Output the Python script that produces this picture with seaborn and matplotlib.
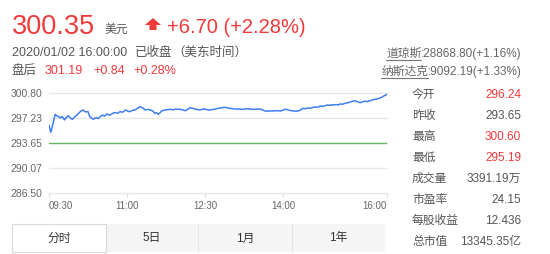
import matplotlib
matplotlib.use("Agg")
import matplotlib.pyplot as plt
import seaborn as sns
import pandas as pd
from matplotlib.patches import Rectangle, Polygon

sns.set_style("white")
plt.rcParams['font.family'] = ['Liberation Sans', 'Noto Sans CJK SC', 'DejaVu Sans']

# Intraday price, minutes after 09:30 (US Eastern)
minutes = [0, 1, 2, 3, 5, 7, 9, 11, 13, 15, 18, 20, 22, 25, 27, 30, 33, 36, 39, 42,
           45, 47, 49, 51, 53, 55, 57, 59, 62, 64, 67, 70, 73, 76, 79, 82, 85, 88, 91, 93,
           96, 99, 102, 105, 108, 111, 114, 117, 120, 122, 124, 126, 128, 130, 133, 136, 140, 143, 146, 151,
           154, 157, 160, 163, 166, 168, 171, 174, 177, 180, 183, 186, 189, 192, 195, 198, 203, 206, 209, 212,
           216, 220, 224, 228, 232, 236, 240, 243, 246, 249, 252, 255, 258, 262, 267, 270, 272, 275, 278, 282,
           285, 288, 290, 293, 296, 298, 301, 304, 307, 310, 313, 316, 319, 321, 324, 326, 328, 331, 334, 336,
           339, 342, 345, 348, 350, 353, 356, 359, 362, 365, 367, 370, 373, 376, 378, 381, 384, 386, 388, 390]
prices = [296.24, 295.70, 295.19, 295.60, 296.60, 297.75, 297.55, 297.41, 297.23, 297.45, 296.94, 297.30, 297.55, 297.20, 297.04, 297.41, 297.75, 298.13, 298.37, 298.10,
          298.15, 297.41, 297.25, 297.04, 297.20, 297.27, 297.15, 297.41, 297.65, 297.50, 297.80, 297.62, 297.85, 298.01, 297.90, 298.13, 298.05, 298.37, 298.20, 298.13,
          298.30, 298.37, 298.60, 298.84, 298.70, 298.37, 298.45, 298.37, 298.20, 297.90, 298.00, 297.75, 297.95, 298.23, 298.35, 298.40, 298.47, 298.40, 298.50, 298.47,
          298.40, 298.27, 298.45, 298.70, 298.60, 298.51, 298.45, 298.37, 298.48, 298.51, 298.40, 298.37, 298.45, 298.51, 298.60, 298.65, 298.76, 298.68, 298.61, 298.55,
          298.50, 298.51, 298.45, 298.55, 298.51, 298.45, 298.50, 298.51, 298.40, 298.23, 298.20, 298.25, 298.22, 298.28, 298.23, 298.35, 298.47, 298.42, 298.30, 298.23,
          298.20, 298.25, 298.35, 298.61, 298.55, 298.65, 298.61, 298.72, 298.80, 298.75, 298.94, 298.88, 299.00, 299.08, 299.02, 299.12, 299.08, 299.15, 299.10, 299.23,
          299.20, 299.35, 299.40, 299.55, 299.60, 299.70, 299.55, 299.41, 299.55, 299.62, 299.58, 299.66, 299.80, 299.90, 299.94, 300.05, 300.20, 300.35, 300.48, 300.60]

prev_close = 293.65
y_ticks = [286.50, 290.07, 293.65, 297.23, 300.80]
x_ticks = [0, 90, 180, 270, 390]
x_labels = ["09:30", "11:00", "12:30", "14:00", "16:00"]

last_price = "300.35"
change_text = "+6.70 (+2.28%)"
timestamp = "2020/01/02 16:00:00"
after_hours = ["301.19", "+0.84", "+0.28%"]
indices = [("道琼斯", ":28868.80(+1.16%)"), ("纳斯达克", ":9092.19(+1.33%)")]
stat_names = ["今开", "昨收", "最高", "最低", "成交量", "市盈率", "每股收益", "总市值"]
stat_values = ["296.24", "293.65", "300.60", "295.19", "3391.19万", "24.15", "12.436", "13345.35亿"]
stat_red = [True, False, True, True, False, False, False, False]
tabs = ["分时", "5日", "1月", "1年"]

RED = "#f0393a"
GRAY = "#555555"
BLUE = "#3d7ef2"
GREEN = "#62b862"

W, H = 550, 254
fig = plt.figure(figsize=(W / 100, H / 100), dpi=100)

# Pixel-space layer for the quote header, stats table and tabs
bg = fig.add_axes([0, 0, 1, 1], zorder=0)
bg.set_xlim(0, W)
bg.set_ylim(H, 0)
bg.axis("off")

bg.text(12, 34.3, last_price, color=RED, fontsize=19.5, va="baseline")
bg.text(105, 33, "美元", color=GRAY, fontsize=8.5, va="baseline")
bg.add_patch(Polygon([(153, 18), (161, 25), (156.5, 25), (156.5, 30),
                      (149.5, 30), (149.5, 25), (145, 25)], closed=True,
                     facecolor=RED, edgecolor="none"))
bg.text(167, 33.3, change_text, color=RED, fontsize=14.5, va="baseline")

bg.text(12, 56, timestamp, color=GRAY, fontsize=9, va="baseline")
bg.text(135, 56, "已收盘", color=GRAY, fontsize=9, va="baseline")
bg.text(172, 56, "（美东时间）", color=GRAY, fontsize=9, va="baseline")

bg.text(12, 74, "盘后", color=GRAY, fontsize=9, va="baseline")
for x, s in zip([45, 93, 133], after_hours):
    bg.text(x, 74, s, color=RED, fontsize=9, va="baseline")

renderer = fig.canvas.get_renderer()
inv = bg.transData.inverted()
for yb, (name, rest) in zip([57, 75], indices):
    t = bg.text(522, yb, rest, color="#666666", fontsize=8.5, va="baseline", ha="right")
    x0 = inv.transform(t.get_window_extent(renderer).p0)[0]
    n = bg.text(x0, yb, name, color="#666666", fontsize=8.5, va="baseline", ha="right")
    nx0 = inv.transform(n.get_window_extent(renderer).p0)[0]
    bg.plot([nx0, x0], [yb + 2.5, yb + 2.5], color="#777777", lw=0.8)

for i, (name, val, red) in enumerate(zip(stat_names, stat_values, stat_red)):
    yc = 95 + 21 * i
    bg.text(412, yc, name, color=GRAY, fontsize=8.5, va="center")
    bg.text(521, yc, val, color=RED if red else GRAY, fontsize=8.5, va="center", ha="right")

tab_edges = [12, 106, 198, 292, 385]
bg.add_patch(Rectangle((12, 224), 373, 28, facecolor="#f5f5f5", edgecolor="none"))
for i, label in enumerate(tabs):
    x0, x1 = tab_edges[i], tab_edges[i + 1]
    if i == 0:
        bg.add_patch(Rectangle((x0, 224), x1 - x0, 28, facecolor="white",
                               edgecolor="#d9d9d9", lw=0.8))
    elif i > 1:
        bg.plot([x0, x0], [224, 252], color="#e4e4e4", lw=0.8)
    bg.text((x0 + x1) / 2, 238.5, label, color="#333333", fontsize=8.5,
            ha="center", va="center")

# Intraday price chart
ax = fig.add_axes([49 / W, (H - 193) / H, 338 / W, 100 / H], zorder=1)
ax.set_facecolor("none")
df = pd.DataFrame({"minute": minutes, "price": prices})
sns.lineplot(data=df, x="minute", y="price", ax=ax, color=BLUE, lw=1.1)
ax.axhline(prev_close, color=GREEN, lw=1.0, zorder=3)

ax.set_xlim(0, 390)
ax.set_ylim(286.50, 300.80)
ax.set_xticks(x_ticks)
ax.set_xticklabels(x_labels)
ax.set_yticks(y_ticks)
ax.set_yticklabels([f"{v:.2f}" for v in y_ticks])
ax.set_xlabel("")
ax.set_ylabel("")
for s in ax.spines.values():
    s.set_visible(False)
ax.grid(axis="y", color="#e8e8e8", lw=1.0)
ax.grid(axis="x", visible=False)
for gl in ax.get_ygridlines():
    gl.set_clip_on(False)
ax.tick_params(axis="x", length=3, width=0.8, color="#dcdcdc", pad=3,
               labelsize=7, labelcolor="#666666", direction="out", bottom=True)
ax.tick_params(axis="y", length=0, pad=5, labelsize=7.5, labelcolor="#666666")
xl = ax.get_xticklabels()
xl[0].set_ha("left")
xl[-1].set_ha("right")

fig.savefig("out.png", dpi=100)
